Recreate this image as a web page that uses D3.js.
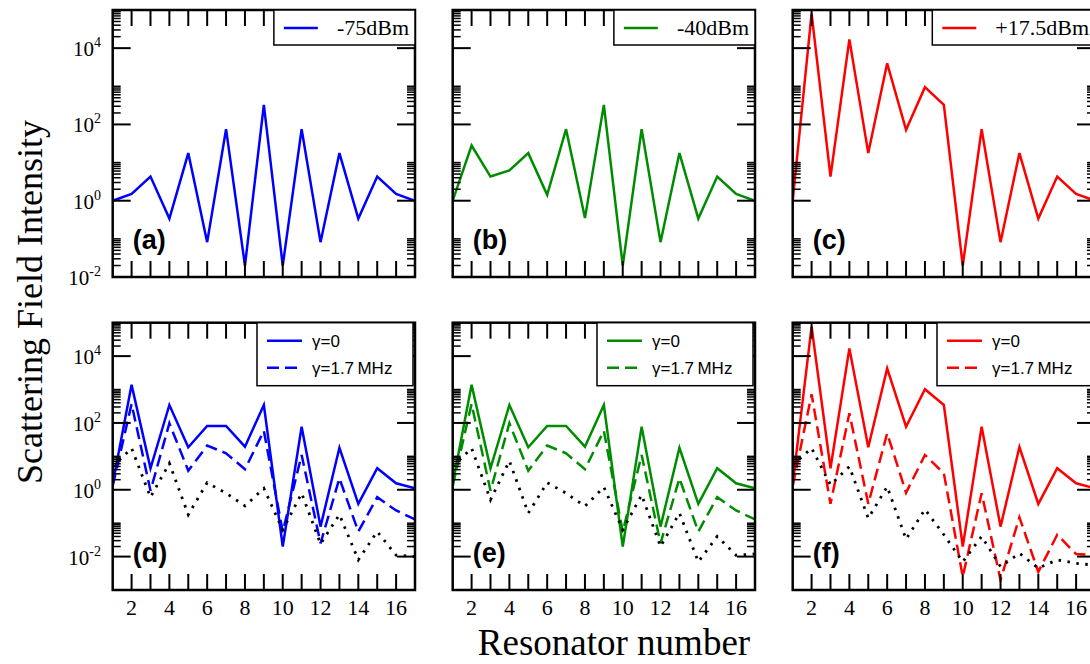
<!DOCTYPE html>
<html>
<head>
<meta charset="utf-8">
<script src="https://cdn.jsdelivr.net/npm/d3@7"></script>
<style>
  body { margin: 0; background: #fff; }
  svg { display: block; }
  .serif { font-family: "Liberation Serif", "DejaVu Serif", serif; }
  .sans { font-family: "Liberation Sans", Arial, sans-serif; }
</style>
</head>
<body>
<script>
// resonator index 1..17
var resonators = d3.range(1, 18)

// top row: intensity vs resonator at three drive powers
var powerA = [1.0, 1.5, 4.3, 0.34, 17.7, 0.082, 75, 0.02, 325, 0.02, 75, 0.082, 17.7, 0.34, 4.3, 1.5, 1.0]
var powerB = [1.0, 28, 4.3, 6.2, 17.7, 1.43, 75, 0.35, 325, 0.02, 75, 0.082, 17.7, 0.34, 4.3, 1.5, 1.0]
var powerC = [1.0, 80000, 4.3, 17000, 17.7, 4000, 72, 950, 325, 0.02, 75, 0.082, 17.7, 0.34, 4.3, 1.5, 1.0]

// bottom row: gamma = 0 (solid), gamma = 1.7 MHz (dashed), dotted reference
var solidD  = [1.5, 1380, 4.4, 345, 18.7, 81, 81, 19.5, 345, 0.02, 77, 0.079, 18, 0.376, 4.4, 1.56, 1.1]
var dashD   = [1.3, 370, 0.94, 98, 3.7, 21, 12.4, 4.1, 58, 0.056, 11, 0.025, 2.2, 0.056, 0.6, 0.24, 0.13]
var dotD    = [5, 17.5, 0.6, 6.2, 0.18, 1.63, 0.79, 0.33, 1.1, 0.063, 0.79, 0.024, 0.18, 0.008, 0.056, 0.011, 0.01]

var solidE  = [1.5, 1380, 4.4, 345, 18.7, 81, 81, 19.5, 345, 0.02, 77, 0.079, 18, 0.376, 4.4, 1.56, 1.1]
var dashE   = [1.3, 370, 0.94, 98, 3.7, 21, 12.4, 4.1, 58, 0.056, 11, 0.025, 2.2, 0.056, 0.6, 0.24, 0.13]
var dotE    = [5, 17.5, 0.5, 7.3, 0.2, 1.63, 0.79, 0.32, 1.2, 0.063, 0.7, 0.02, 0.2, 0.007, 0.04, 0.011, 0.012]

var solidF  = [1.5, 76000, 4.4, 17000, 18.7, 4300, 77, 1020, 345, 0.02, 77, 0.079, 19, 0.376, 4.4, 1.56, 1.1]
var dashF   = [1.3, 720, 0.38, 195, 0.38, 49, 0.82, 11, 3.1, 0.0025, 0.79, 0.002, 0.15, 0.0035, 0.045, 0.012, 0.011]
var dotF    = [5.5, 17.5, 1.4, 4.9, 0.14, 1.24, 0.033, 0.26, 0.045, 0.007, 0.04, 0.005, 0.0126, 0.0045, 0.008, 0.0063, 0.0055]

var topLegends = ["-75dBm", "-40dBm", "+17.5dBm"]
var panelTags = ["(a)", "(b)", "(c)", "(d)", "(e)", "(f)"]
var colors = ["#0000ff", "#008c00", "#ff0000"]
var xTickLabels = [2, 4, 6, 8, 10, 12, 14, 16]

var W = 1090, H = 664
var svg = d3.select("body").append("svg").attr("width", W).attr("height", H)

var panelW = 302.3
var colLeft = [112.7, 452.7, 792.7]
var rows = [
  { top: 10, h: 267, dom: [1e-2, 1e5], labels: [-2, 0, 2, 4], minorFrom: [-2, 0, 2, 4] },
  { top: 322.7, h: 267.3, dom: [1e-3, 1e5], labels: [-2, 0, 2, 4], minorFrom: [-2, 0, 2, 4] }
]

var panels = [
  { row: 0, col: 0, series: [{ v: powerA, c: colors[0] }] },
  { row: 0, col: 1, series: [{ v: powerB, c: colors[1] }] },
  { row: 0, col: 2, series: [{ v: powerC, c: colors[2] }] },
  { row: 1, col: 0, series: [{ v: solidD, c: colors[0] }, { v: dashD, c: colors[0], dash: "12,6" }, { v: dotD, c: "#000", dot: true }] },
  { row: 1, col: 1, series: [{ v: solidE, c: colors[1] }, { v: dashE, c: colors[1], dash: "12,6" }, { v: dotE, c: "#000", dot: true }] },
  { row: 1, col: 2, series: [{ v: solidF, c: colors[2] }, { v: dashF, c: colors[2], dash: "12,6" }, { v: dotF, c: "#000", dot: true }] }
]

panels.forEach(function (p, i) {
  var r = rows[p.row]
  var x0 = colLeft[p.col], y0 = r.top
  var x = d3.scaleLinear().domain([1, 17]).range([x0, x0 + panelW])
  var y = d3.scaleLog().domain(r.dom).range([y0 + r.h, y0])

  var g = svg.append("g")
  var clipId = "clip" + i
  svg.append("clipPath").attr("id", clipId).append("rect")
    .attr("x", x0).attr("y", y0).attr("width", panelW).attr("height", r.h)

  // data lines
  var line = d3.line().x(function (d, k) { return x(resonators[k]) }).y(function (d) { return y(d) })
  p.series.forEach(function (s) {
    g.append("path")
      .attr("clip-path", "url(#" + clipId + ")")
      .attr("d", line(s.v))
      .attr("fill", "none")
      .attr("stroke", s.c)
      .attr("stroke-width", s.dot ? 2.8 : 2.5)
      .attr("stroke-linejoin", "miter")
      .attr("stroke-dasharray", s.dot ? "2.5,6.5" : (s.dash || null))
  })

  // ticks (all four sides, pointing inward)
  var tk = g.append("g").attr("stroke", "#000")
  d3.range(2, 17).forEach(function (t) {
    tk.append("line").attr("x1", x(t)).attr("x2", x(t)).attr("y1", y0).attr("y2", y0 + 16).attr("stroke-width", 2)
    tk.append("line").attr("x1", x(t)).attr("x2", x(t)).attr("y1", y0 + r.h).attr("y2", y0 + r.h - 16).attr("stroke-width", 2)
  })
  r.labels.forEach(function (e) {
    var yy = y(Math.pow(10, e))
    tk.append("line").attr("x1", x0).attr("x2", x0 + 18).attr("y1", yy).attr("y2", yy).attr("stroke-width", 2)
    tk.append("line").attr("x1", x0 + panelW).attr("x2", x0 + panelW - 18).attr("y1", yy).attr("y2", yy).attr("stroke-width", 2)
  })
  r.minorFrom.forEach(function (e) {
    d3.range(2, 11).forEach(function (m) {
      var v = m * Math.pow(10, e)
      if (v > r.dom[1]) return
      var yy = y(v)
      tk.append("line").attr("x1", x0).attr("x2", x0 + 8).attr("y1", yy).attr("y2", yy).attr("stroke-width", 1.5)
      tk.append("line").attr("x1", x0 + panelW).attr("x2", x0 + panelW - 8).attr("y1", yy).attr("y2", yy).attr("stroke-width", 1.5)
    })
  })

  // frame
  g.append("rect").attr("x", x0).attr("y", y0).attr("width", panelW).attr("height", r.h)
    .attr("fill", "none").attr("stroke", "#000").attr("stroke-width", 2.5)

  // y tick labels on first column
  if (p.col === 0) {
    r.labels.forEach(function (e) {
      var t = svg.append("text").attr("class", "serif")
        .attr("x", 101).attr("y", y(Math.pow(10, e)) + 8)
        .attr("text-anchor", "end").attr("font-size", 21)
      t.append("tspan").text("10")
      t.append("tspan").attr("dy", -9).attr("font-size", 14).text(e < 0 ? "-" + (-e) : String(e))
    })
  }

  // x tick labels on bottom row
  if (p.row === 1) {
    xTickLabels.forEach(function (t) {
      svg.append("text").attr("class", "serif")
        .attr("x", x(t)).attr("y", y0 + r.h + 25)
        .attr("text-anchor", "middle").attr("font-size", 22)
        .text(t)
    })
  }

  // panel tag
  svg.append("text").attr("class", "sans")
    .attr("x", x0 + 20).attr("y", y0 + r.h - 28)
    .attr("font-size", 27).attr("font-weight", "bold")
    .text(panelTags[i])

  // legends
  var xr = x0 + panelW
  if (p.row === 0) {
    var lg = svg.append("g")
    var lt = lg.append("text").attr("class", "serif").attr("font-size", 22)
      .attr("y", y0 + 25).text(topLegends[p.col])
    var tw = lt.node().getComputedTextLength()
    var bw = 63 + tw + 6
    var bx = xr - bw
    lg.insert("rect", "text").attr("x", bx).attr("y", y0).attr("width", bw).attr("height", 35)
      .attr("fill", "#fff").attr("stroke", "#000").attr("stroke-width", 1.5)
    lt.attr("x", bx + 63)
    lg.append("line").attr("x1", bx + 10).attr("x2", bx + 44).attr("y1", y0 + 18).attr("y2", y0 + 18)
      .attr("stroke", colors[p.col]).attr("stroke-width", 2.5)
  } else {
    var bx2 = xr - 158
    var lg2 = svg.append("g")
    lg2.append("rect").attr("x", bx2).attr("y", y0).attr("width", 156).attr("height", 63)
      .attr("fill", "#fff").attr("stroke", "#000").attr("stroke-width", 1.5)
    lg2.append("line").attr("x1", bx2 + 10).attr("x2", bx2 + 45).attr("y1", y0 + 18).attr("y2", y0 + 18)
      .attr("stroke", colors[p.col]).attr("stroke-width", 2.5)
    lg2.append("line").attr("x1", bx2 + 10).attr("x2", bx2 + 45).attr("y1", y0 + 45).attr("y2", y0 + 45)
      .attr("stroke", colors[p.col]).attr("stroke-width", 2.5).attr("stroke-dasharray", "12,6")
    lg2.append("text").attr("class", "sans").attr("font-size", 17)
      .attr("x", bx2 + 55).attr("y", y0 + 24).text("\u03b3=0")
    lg2.append("text").attr("class", "sans").attr("font-size", 17)
      .attr("x", bx2 + 55).attr("y", y0 + 51).text("\u03b3=1.7\u2009MHz")
  }
})

// axis titles
svg.append("text").attr("class", "serif")
  .attr("transform", "translate(42,302) rotate(-90)")
  .attr("text-anchor", "middle").attr("font-size", 36)
  .text("Scattering Field Intensity")

svg.append("text").attr("class", "serif")
  .attr("x", 614).attr("y", 655)
  .attr("text-anchor", "middle").attr("font-size", 37)
  .text("Resonator number")
</script>
</body>
</html>
